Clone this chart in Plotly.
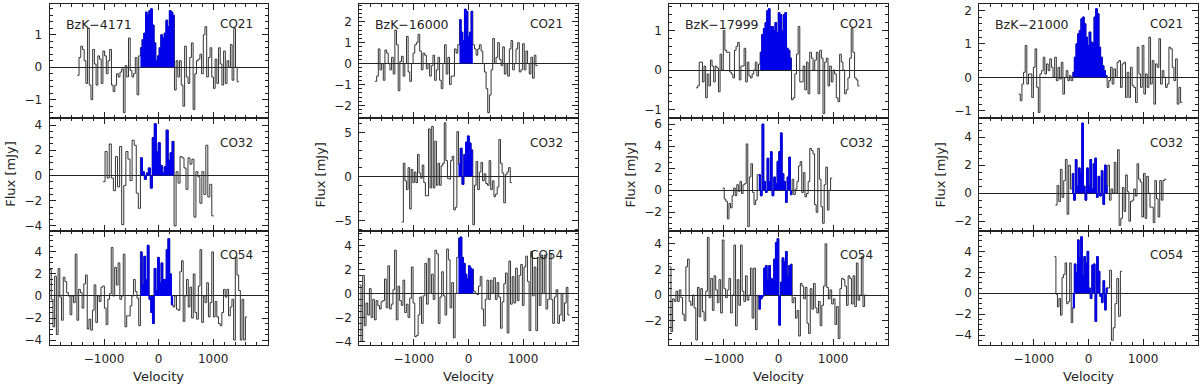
import numpy as np
import plotly.graph_objects as go

# ---------------- data ----------------
galaxies = ["BzK\u22124171", "BzK\u221216000", "BzK\u221217999", "BzK\u221221000"]
transitions = ["CO21", "CO32", "CO54"]

# velocity limits: [start, blue start, blue end, end]  (km/s)
# BzK-4171
A1_vel = [-1490, -334, 290, 1470]
A1_pre = [-0.25, 0.3, 0.65, 0.55, 0.2, -0.5, 1.2, -0.55, -1.0, 0.55, 0.1, -0.55, 0.35, 0.25, -0.5, 0.5, 0.35, -0.2, 0.2, 0.55,
          -0.55, -0.75, -0.55, -0.2, -0.3, -0.15, -0.05, -1.4, 0.05, -0.3, 0.9, -0.1, -0.3, -0.2, 0.3, -0.85, 0.35]
A1_blue = [0.6, 0.85, 1.05, 1.7, 1.6, 1.75, 1.8, 1.3, 0.75, 0.2, 0.35, 0.6, 1.0, 0.9, 1.05, 1.45, 1.25, 1.75, 1.7, 1.6]
A1_post = [-0.7, 0.2, -0.3, 0.2, -0.55, -1.2, 0.65, -0.3, -0.5, 0.3, 0.75, -1.3, -0.2, 0.2, 0.25, 0.4, -0.2, 1.0, 1.25, -0.3,
           0.3, 0.6, -0.3, -0.65, 0.25, -0.5, 0.6, 0.1, -0.55, 0.5, -0.5, 0.2, 0.0, 0.7, -0.4, 1.2, 0.0, -0.45]

A2_vel = [-1020, -334, 283, 1010]
A2_pre = [-0.5, 1.9, -0.2, 2.5, -0.2, -1.2, 1.5, -0.9, 2.3, -3.9, -0.8, 1.9, 1.3, -0.4, 2.8, 2.4, -1.4, -2.6]
A2_blue = [1.4, 0.3, -0.3, 0.2, 0.6, -1.0, 3.0, 4.1, 1.9, 2.6, 0.8, 0.2, 0.7, 3.6, 1.2, 1.8, 2.7]
A2_post = [-4.0, 0.3, -0.6, 1.5, 1.4, 0.6, -1.1, 1.4, 0.9, 1.3, -3.3, 0.3, -0.1, -2.2, 0.3, -1.5, 2.4, -1.7, -0.7, -3.2]

A3_vel = [-2000, -334, 265, 1620]
A3_pre = [2.4, -0.3, -2.8, 1.8, -3.5, 2.5, -0.1, -2.2, 1.7, 1.3, 0.3, 0.0, -1.7, 0.0, -0.6, 3.8, -2.2, 0.6, 0.3, -1.1,
          1.1, 1.9, -3.0, -2.1, -3.1, -1.3, 1.0, -2.4, 0.0, -0.5, 0.8, 0.9, -1.1, -2.6, -0.3, 0.2, 4.4, 0.0, 2.6, 1.0,
          3.0, -0.3, 0.0, 3.8, -2.8, -1.8, -1.8, -0.9, 0.0, 1.5, 0.4, -0.2, -2.7]
A3_blue = [4.0, 1.0, 3.6, 1.5, 4.6, -0.3, -1.5, -2.5, 2.5, 0.5, 3.5, 1.2, 3.0, 1.5, 1.5, 4.2, 5.2, 2.0, -0.8]
A3_post = [-1.0, 0.0, -1.2, -1.3, 2.2, 3.2, -2.3, 0.0, 1.5, -1.0, 0.8, -2.0, 2.0, -1.5, -2.1, 0.9, 4.2, -2.4, 0.0, -0.6,
           1.2, -1.9, -0.6, 4.0, -1.9, -0.5, -1.9, -2.5, -2.7, -1.5, 0.6, -0.1, 0.6, -1.8, -1.0, -0.3, -4.0, 3.5, 1.9, 0.5,
           -4.0, -0.3, -4.0, -1.9]

# BzK-16000
B1_vel = [-1712, -165, 80, 1266]
B1_pre = [-0.85, -0.6, 0.7, -0.3, 0.0, -0.8, 0.65, 0.5, 0.0, -0.3, 0.3, -0.5, 1.6, 0.9, -1.3, 0.1, 0.35, -0.6, 0.0, 1.3,
          -0.4, -0.85, 0.0, 0.5, 0.9, 1.0, 1.4, 0.6, -0.3, 0.5, 0.4, -0.25, 0.0, -0.6, -0.1, 0.4, -0.8, -0.3, 0.3, -0.8,
          -1.2, 0.0, 0.9, -0.5, 0.3, -1.0, -0.6, -0.6, 0.7, 0.5, 0.9]
B1_blue = [2.1, 1.5, 1.1, 2.6, 2.5, 1.3, 1.5, 2.5]
B1_post = [0.9, 0.7, 0.4, 0.7, 0.9, 0.6, 0.0, -0.4, -1.2, -2.35, -1.5, -0.3, 1.2, 0.0, 0.3, 1.0, 0.2, -0.1, 0.8, -0.5,
           0.0, -0.6, 0.7, 1.1, -0.3, 0.0, 0.7, 1.0, -0.4, -0.3, 0.95, -0.3, 0.6, 0.0, -0.5, 0.3, -0.7, 0.4, -0.1]

B2_vel = [-1222, -183, 80, 796]
B2_pre = [-5.2, 1.5, -0.5, -1.5, 1.0, -3.7, 0.8, -0.7, 0.5, -0.7, 2.5, 0.4, -0.2, 1.3, -0.7, -2.2, -2.2, 5.4, -1.3, 5.7,
          -1.3, 4.0, -1.0, 1.5, -1.0, 1.2, 1.5, 6.1, 1.8, -0.2, -0.3, 1.8, 2.3, -3.8, -3.5, 5.1]
B2_blue = [1.4, 3.2, -0.9, 2.5, 3.9, 4.6, 3.8, 3.0]
B2_post = [-5.5, -1.0, 1.7, -1.5, 0.5, 1.6, -0.5, 0.3, -0.8, -1.0, 1.8, -1.5, -0.5, -2.3, -2.0, -1.2, 4.2, 1.5, 0.4, -3.0,
           0.2, 0.5, 1.0, -0.7]

B3_vel = [-2000, -183, 92, 1853]
B3_pre = [0.7, -4.0, 1.5, -2.7, -0.8, -1.8, 0.4, -2.0, -0.5, -2.2, -0.6, -1.0, -1.3, -0.7, -0.6, 1.2, -1.2, 2.3, -1.3, -0.9,
          0.3, 3.6, -2.2, 0.6, -0.6, -1.0, 1.1, -1.6, -0.9, -2.0, -0.4, 2.2, -0.8, -3.6, -3.5, -1.8, -0.3, -2.5, -0.2, 2.5,
          -0.9, 2.9, 0.0, 1.6, -0.5, 3.6, 3.3, -2.5, -0.3, 1.8, -0.2, -1.8, 3.7, 2.8, -1.2, 0.9, -3.7, 0.0, 3.0]
B3_blue = [4.6, 4.7, 3.0, 2.5, 1.6, 1.2, 2.3, 2.1, 2.0]
B3_post = [0.2, 0.0, -0.1, 0.6, 1.4, -1.3, -2.7, -0.5, 1.1, -0.5, 1.1, 0.0, 1.3, -0.5, 0.9, -0.3, -2.9, -0.7, 0.8, 1.7,
           -3.3, 2.7, -0.9, 1.4, -0.8, 2.1, -0.6, 1.5, 2.4, -1.0, 2.2, 3.1, 1.0, -3.1, 3.5, -0.2, 2.2, -3.1, 3.0, -1.0,
           3.2, 0.0, 3.2, -1.3, -0.5, 3.3, -0.5, -2.5, -0.3, 0.3, -2.5, -1.8, 0.0, -2.3, -0.8, 0.5, -1.8]

# BzK-17999
C1_vel = [-1510, -336, 239, 1486]
C1_pre = [-0.45, -0.4, 0.2, 0.2, -0.3, 0.1, -0.7, -0.1, -0.4, 0.25, 0.1, -0.3, 0.1, 0.05, -0.55, 0.4, 0.0, 1.0, 0.5, 0.45,
          0.45, -0.05, -0.1, -0.2, 0.5, 0.6, 0.7, -0.25, 0.1, 0.1, 0.55, -0.3, 0.2, -0.15, -0.2, -0.1, 0.0, 0.2, -0.15, 0.15]
C1_blue = [0.45, 0.9, 1.05, 1.2, 1.5, 1.55, 1.1, 1.1, 1.0, 1.2, 0.95, 1.45, 1.4, 1.0, 1.4, 1.45, 0.55, 0.5, 0.3]
C1_post = [-0.75, -0.7, -0.1, 0.4, 1.1, -0.3, -0.3, 0.1, -0.5, 0.2, -0.6, 0.45, 0.3, 0.0, 0.25, 0.45, -0.6, 0.5, 0.3, -1.1,
           0.2, 0.3, -0.4, 0.1, -0.3, 0.0, -0.1, -0.7, -0.8, 0.4, 0.2, 0.0, -0.6, -0.5, -0.2, 0.3, 1.05, 0.45, -0.2, -0.25,
           -0.4]

C2_vel = [-1022, -361, 251, 985]
C2_pre = [0.2, -0.8, -1.0, -2.6, -1.2, -1.6, -0.5, 0.2, -0.5, 0.5, -0.1, 0.8, -0.3, 0.5, 0.6, 4.2, -3.3, 1.2, 2.4, -0.2,
          -1.3, -0.9, 1.4]
C2_blue = [1.4, -0.5, 6.0, 0.8, -0.2, 2.9, 0.8, 3.5, -0.5, 1.2, 0.6, 2.6, 3.5, 5.2, 1.5, 0.8, -1.1, 1.2, 3.0, -0.4]
C2_post = [1.0, -0.4, 0.1, 0.8, 2.2, 2.6, -0.2, 1.6, -0.6, -0.3, 0.8, 3.8, 3.6, 3.3, -1.3, -2.0, 3.8, 1.0, -1.5, -3.0,
           0.5, 2.1, -1.8, 0.0, 1.1]

C3_vel = [-2000, -361, 251, 1609]
C3_pre = [2.2, -2.85, -0.3, -0.5, 0.3, -0.5, 0.4, -0.2, -1.5, -2.0, 2.2, 2.8, -0.5, -0.8, 0.0, -1.0, -3.5, 0.6, -1.7, 0.5,
          -1.3, -2.0, 0.3, 4.5, -0.2, 1.3, -1.2, 1.5, 0.4, -0.6, 1.2, -1.4, 4.3, 0.5, -0.2, 0.4, 1.3, -1.4, 0.0, 3.9,
          -2.4, 1.2, -0.8, 3.9, 0.3, -0.5, 1.5, -0.4, 0.0, 2.1, -1.8, 2.1, -2.7, -0.1]
C3_blue = [-1.1, -0.3, -0.1, 2.1, 2.3, 1.2, 2.3, 1.3, 1.2, 2.8, 4.1, 4.4, -2.35, 1.0, 2.9, 2.6, 3.4, 1.5, 2.3, 2.4]
C3_post = [-0.6, -0.2, -1.8, -1.2, -3.2, 0.9, 0.7, -0.3, 0.6, -2.2, -3.0, 0.5, -1.1, 0.9, -1.0, -1.4, -0.5, -2.4, -0.8, 0.7,
           4.0, 0.6, -0.3, 0.4, -0.7, -0.3, -2.3, -0.9, -3.4, 0.5, 1.3, 1.2, 0.7, -0.8, 1.5, 1.3, -0.7, 1.5, -0.9, 2.5,
           -0.4, 0.0, 3.0, -0.9, 0.0]

# BzK-21000
D1_vel = [-1279, -288, 343, 1719]
D1_pre = [-0.5, -0.7, -0.2, 0.15, 0.95, -0.2, 0.1, 0.1, -0.6, 0.3, 0.85, -0.3, -1.05, 0.1, 0.2, 0.6, 0.1, 0.4, 0.2, 0.55,
          0.3, 0.0, 0.6, -0.1, 0.3, -0.05, 0.45, -0.5, 0.0, 0.2, -0.1, 0.05, -0.1]
D1_blue = [0.15, 0.6, 1.0, 1.3, 1.4, 1.75, 1.8, 1.6, 1.2, 0.95, 1.35, 1.05, 1.0, 1.8, 2.05, 1.9, 0.9, 0.6, 0.35, 0.2, 0.05]
D1_post = [-0.3, -0.1, 0.3, -0.2, 0.25, 0.0, 0.45, 0.5, -0.3, 0.4, 0.45, -0.6, 0.15, -0.6, 0.3, -0.25, -0.3, -0.75, 0.9, 0.1,
           -0.3, 0.95, -0.5, 0.1, -0.3, 1.2, -0.2, 0.5, -0.8, 0.4, 0.3, 1.15, -0.2, 0.2, 0.0, -0.3, -0.2, 0.9, 0.85, 0.3,
           -0.1, 0.55, -0.8, -0.3, -0.75]

D2_vel = [-606, -300, 355, 1425]
D2_pre = [-0.85, 0.55, -0.6, 1.7, -0.3, 0.9, 2.4, -1.5, 2.0, 0.3]
D2_blue = [1.4, -0.5, 2.4, 0.5, 1.8, 1.4, 5.0, 0.5, -0.5, 1.8, 0.5, 2.4, 0.3, 2.1, 2.5, -0.3, 1.2, -0.2, 1.6, -0.8, 2.0, 0.5]
D2_post = [2.0, -0.5, 0.3, 0.0, 2.2, 0.0, 3.1, -2.3, -1.8, 0.4, -1.3, 1.3, 0.1, -2.0, -0.6, -0.5, 0.3, -0.2, 2.1, 1.0,
           0.8, -1.7, 1.4, -1.8, 1.2, 0.0, -1.0, -1.0, -2.1, 0.9, -0.4, -1.7, 0.9, -0.5, 0.9, 1.0]

D3_vel = [-624, -288, 355, 618]
D3_pre = [3.5, -0.1, -1.3, -0.5, -2.1, 1.5, 1.8, 2.9, -1.0, -0.8, 2.9, -2.8]
D3_blue = [-1.4, 2.8, 2.0, 5.1, 3.4, 5.4, 1.7, 3.5, 2.9, 4.0, 0.5, -0.5, 2.7, 2.8, -2.7, 3.5, 2.1, -0.3, -0.9, 1.2, -1.6, 0.5]
D3_post = [0.5, 2.2, -4.5, -3.3, -1.0, 1.4, -2.2, 2.1]

# y-axis ranges and tick steps (rows: CO21, CO32, CO54; columns: galaxies)
y_ranges = [[[-1.55, 1.95], [-2.58, 2.85], [-1.2, 1.67], [-1.2, 2.19]],
            [[-4.4, 4.6], [-6.2, 6.7], [-3.7, 6.6], [-2.7, 5.4]],
            [[-4.45, 5.9], [-4.3, 5.2], [-3.9, 5.0], [-4.95, 5.95]]]
y_dticks = [[[1, 0.2], [1, 0.2], [1, 0.2], [1, 0.2]],
            [[2, 0.5], [5, 1], [2, 0.5], [2, 0.5]],
            [[2, 0.5], [2, 0.5], [2, 0.5], [2, 0.5]]]
x_range = [-2000, 2000]
x_ticks = [-1000, 0, 1000]

panels = [[(A1_vel, A1_pre, A1_blue, A1_post), (B1_vel, B1_pre, B1_blue, B1_post),
           (C1_vel, C1_pre, C1_blue, C1_post), (D1_vel, D1_pre, D1_blue, D1_post)],
          [(A2_vel, A2_pre, A2_blue, A2_post), (B2_vel, B2_pre, B2_blue, B2_post),
           (C2_vel, C2_pre, C2_blue, C2_post), (D2_vel, D2_pre, D2_blue, D2_post)],
          [(A3_vel, A3_pre, A3_blue, A3_post), (B3_vel, B3_pre, B3_blue, B3_post),
           (C3_vel, C3_pre, C3_blue, C3_post), (D3_vel, D3_pre, D3_blue, D3_post)]]

# ---------------- layout geometry (pixels) ----------------
W, H = 1200, 386
col_x0 = [49.5, 359.3, 669.3, 979.3]
col_w = 218.3
row_y = [4.0, 117.5, 231.0, 345.0]
label_y = [24, 143, 255]

FONT = "DejaVu Sans"
INK = "#222222"
BLUE = "rgb(0,0,235)"


def px(xp):
    return xp / W


def py(yp):
    return 1 - yp / H


fig = go.Figure()
layout = dict(width=W, height=H, margin=dict(l=0, r=0, t=0, b=0, pad=0),
              paper_bgcolor="white", plot_bgcolor="white", showlegend=False)
annotations = []

for r in range(3):
    for c in range(4):
        n = r * 4 + c + 1
        xs = "" if n == 1 else str(n)
        vel, pre, blue, post = panels[r][c]
        v0, b0, b1, v1 = vel
        e_pre = np.linspace(v0, b0, len(pre) + 1)
        e_blue = np.linspace(b0, b1, len(blue) + 1)
        e_post = np.linspace(b1, v1, len(post) + 1)
        edges = np.concatenate([e_pre[:-1], e_blue[:-1], e_post])
        flux = list(pre) + list(blue) + list(post)
        fig.add_trace(go.Scatter(x=edges, y=flux + [flux[-1]], mode="lines",
                                 line=dict(color="#333333", width=1, shape="hv"),
                                 xaxis="x" + xs, yaxis="y" + xs, hoverinfo="skip"))
        fig.add_trace(go.Scatter(x=e_blue, y=list(blue) + [blue[-1]], mode="lines",
                                 line=dict(color=BLUE, width=1, shape="hv"),
                                 fill="tozeroy", fillcolor=BLUE,
                                 xaxis="x" + xs, yaxis="y" + xs, hoverinfo="skip"))
        x0 = col_x0[c]
        common = dict(showline=True, linecolor=INK, linewidth=1, mirror="ticks",
                      ticks="inside", tickcolor=INK, tickwidth=1, showgrid=False,
                      tickfont=dict(family=FONT, size=12, color=INK), automargin=False)
        layout["xaxis" + xs] = dict(common, domain=[px(x0), px(x0 + col_w)], anchor="y" + xs,
                                    range=x_range, tickmode="array", tickvals=x_ticks, ticklen=6,
                                    minor=dict(ticks="inside", dtick=200, tick0=0, ticklen=3, tickcolor=INK),
                                    zeroline=False, showticklabels=(r == 2), ticklabelstandoff=3)
        dt, mdt = y_dticks[r][c]
        layout["yaxis" + xs] = dict(common, domain=[py(row_y[r + 1]), py(row_y[r])], anchor="x" + xs,
                                    range=y_ranges[r][c], dtick=dt, tick0=0, ticklen=6,
                                    minor=dict(ticks="inside", dtick=mdt, ticklen=3, tickcolor=INK),
                                    zeroline=True, zerolinecolor=INK, zerolinewidth=1,
                                    ticklabelstandoff=4)
        # transition label
        annotations.append(dict(text=transitions[r], x=px(x0 + col_w - 13), y=py(label_y[r]),
                                xref="paper", yref="paper", xanchor="right", yanchor="middle",
                                showarrow=False, font=dict(family=FONT, size=12, color=INK)))

for c in range(4):
    x0 = col_x0[c]
    annotations.append(dict(text=galaxies[c], x=px(x0 + 14), y=py(label_y[0]),
                            xref="paper", yref="paper", xanchor="left", yanchor="middle",
                            showarrow=False, font=dict(family=FONT, size=12.5, color=INK)))
    annotations.append(dict(text="Velocity", x=px(x0 + col_w / 2), y=py(376),
                            xref="paper", yref="paper", xanchor="center", yanchor="middle",
                            showarrow=False, font=dict(family=FONT, size=13, color=INK)))
    annotations.append(dict(text="Flux [mJy]", x=px(x0 - 39), y=py((row_y[1] + row_y[2]) / 2),
                            xref="paper", yref="paper", xanchor="center", yanchor="middle",
                            textangle=-90, showarrow=False, font=dict(family=FONT, size=13, color=INK)))

layout["annotations"] = annotations
fig.update_layout(**layout)
fig.write_html("out.html", config={"displayModeBar": False},
               post_script="document.body.style.margin='0';document.body.style.padding='0';"
                           "document.documentElement.style.margin='0';")
